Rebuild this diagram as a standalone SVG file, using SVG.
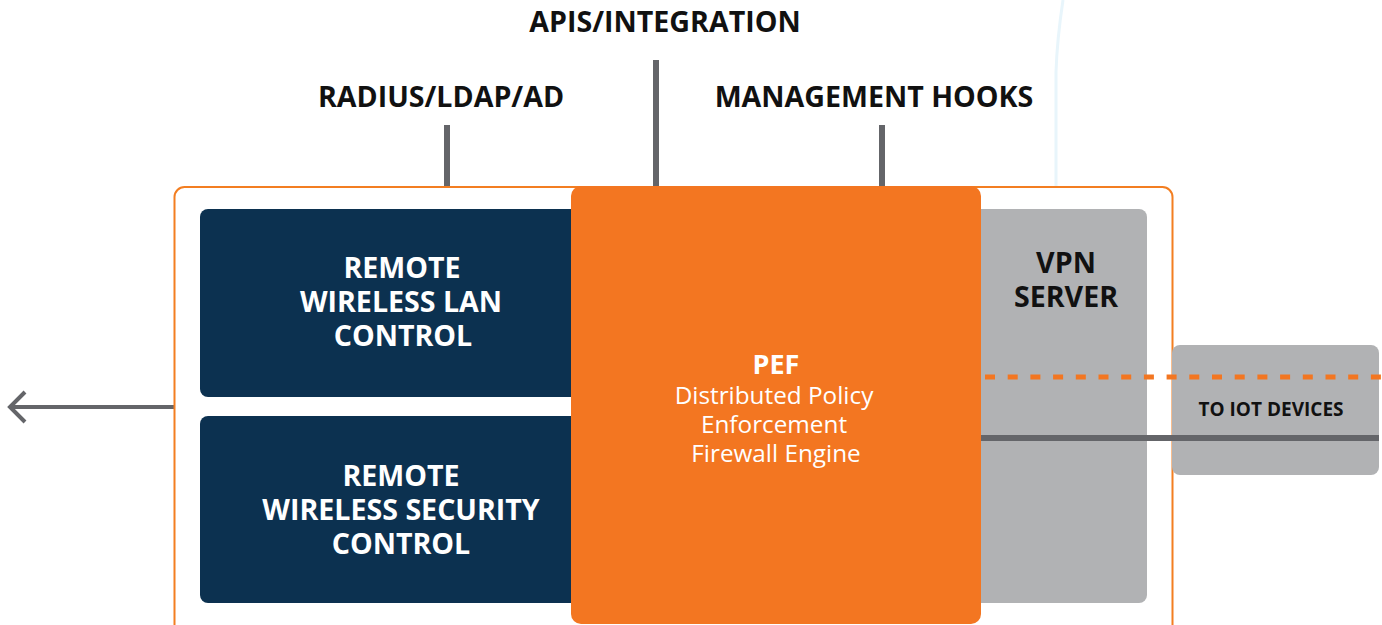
<svg xmlns="http://www.w3.org/2000/svg" width="1382" height="625" viewBox="0 0 1382 625">
<defs>
<style>
.t{font-family:"Open Sans","Liberation Sans",sans-serif;font-weight:700;text-anchor:middle}
.hd{font-size:28.6px;fill:#111}
.wh{font-size:28.6px;fill:#fff}
.conn{stroke:#646569;stroke-width:6;fill:none}
</style>
</defs>
<rect width="1382" height="625" fill="#fff"/>
<path d="M1063 0 Q1057 40 1056 72 L1056 187" stroke="#e8f5fb" stroke-width="3" fill="none"/>
<g id="labels">
<text class="t hd" x="665" y="32">APIS/INTEGRATION</text>
<text class="t hd" x="441" y="107">RADIUS/LDAP/AD</text>
<text class="t hd" x="874" y="107">MANAGEMENT HOOKS</text>
</g>
<g id="connectors">
<line class="conn" x1="447" y1="125" x2="447" y2="188"/>
<line class="conn" x1="656" y1="60" x2="656" y2="188"/>
<line class="conn" x1="882" y1="125" x2="882" y2="188"/>
<path d="M174 407 L10 407 M25 392 L10 407 L25 422" stroke="#646569" stroke-width="4" fill="none"/>
</g>
<g id="container">
<rect x="174.5" y="187" width="998" height="460" rx="10" fill="#fff" stroke="#F37E21" stroke-width="2"/>
</g>
<g id="iot">
<rect x="1172" y="345" width="207" height="130" rx="8" fill="#B1B2B4"/>
<text class="t" x="1271" y="416" font-size="19" fill="#111">TO IOT DEVICES</text>
</g>
<g id="wlan">
<rect x="200" y="209" width="380" height="188" rx="8" fill="#0C3150"/>
<text class="t wh" x="402" y="278">REMOTE<tspan x="401" dy="34">WIRELESS LAN</tspan><tspan x="403" dy="34">CONTROL</tspan></text>
</g>
<g id="wsec">
<rect x="200" y="416" width="380" height="187" rx="8" fill="#0C3150"/>
<text class="t wh" x="401" y="486">REMOTE<tspan x="401" dy="34">WIRELESS SECURITY</tspan><tspan x="401" dy="34">CONTROL</tspan></text>
</g>
<g id="vpn">
<rect x="965" y="209" width="182" height="394" rx="8" fill="#B1B2B4"/>
<text class="t hd" x="1066" y="273">VPN<tspan x="1066" dy="34">SERVER</tspan></text>
</g>
<g id="pef">
<rect x="571" y="186" width="410" height="438" rx="10" fill="#F37621"/>
<text font-family="'Open Sans','Liberation Sans',sans-serif" font-size="24.3" fill="#fff" text-anchor="middle" x="776" y="374"><tspan font-weight="700" font-size="27">PEF</tspan><tspan x="774" dy="30">Distributed Policy</tspan><tspan x="774" dy="29">Enforcement</tspan><tspan x="776" dy="29">Firewall Engine</tspan></text>
</g>
<g id="links">
<line x1="985" y1="377" x2="1382" y2="377" stroke="#F37621" stroke-width="5" stroke-dasharray="10 12.7"/>
<line x1="981" y1="438" x2="1379" y2="438" stroke="#646569" stroke-width="6"/>
</g>
</svg>
